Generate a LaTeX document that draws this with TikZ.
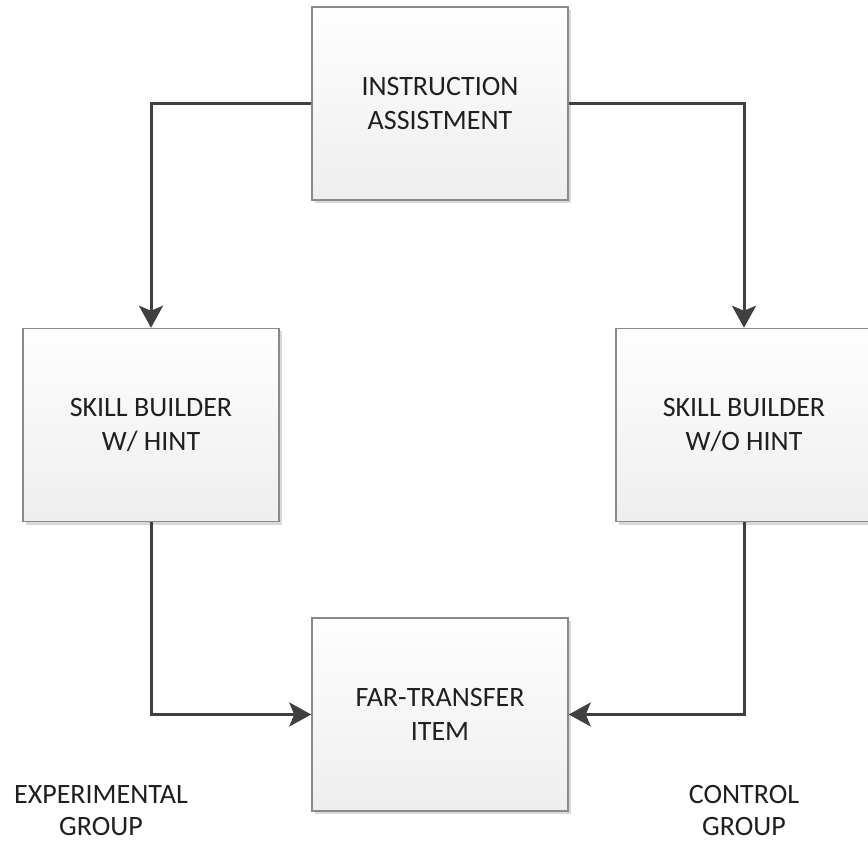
\documentclass[tikz,border=0pt]{standalone}
\usepackage{fontspec}
\setmainfont{Carlito}
\usetikzlibrary{arrows.meta,shadows}
\definecolor{linecol}{HTML}{404040}
\definecolor{textcol}{HTML}{1F1F1F}
\definecolor{boxborder}{HTML}{8A8A8A}
\definecolor{boxtop}{HTML}{FEFEFE}
\definecolor{boxbot}{HTML}{EEEEEE}
\tikzset{
  stepbox/.style={draw=boxborder, line width=1.5pt, top color=boxtop, bottom color=boxbot,
    minimum width=256pt, minimum height=193pt, inner sep=0pt, align=center,
    text=textcol, font=\fontsize{28}{34}\selectfont,
    drop shadow={shadow xshift=3pt, shadow yshift=-3pt, fill=black, opacity=0.15}},
  grouplabel/.style={align=center, text=textcol, font=\fontsize{28}{32}\selectfont},
  conn/.style={draw=linecol, line width=3pt, -{Stealth[length=22pt,width=24pt,inset=5pt]}}
}
\begin{document}
\begin{tikzpicture}[x=1pt,y=1pt]
\useasboundingbox (0,0) rectangle (868,-842);
\clip (0,0) rectangle (868,-842);
\fill[white] (0,0) rectangle (868,-842);
\node[stepbox] (ia) at (440,-103.5) {INSTRUCTION\\ASSISTMENT};
\node[stepbox] (sbw) at (151,-425) {SKILL BUILDER\\W/ HINT};
\node[stepbox] (sbo) at (744,-425) {SKILL BUILDER\\W/O HINT};
\node[stepbox] (ft) at (440,-714.5) {FAR-TRANSFER\\ITEM};
\node[grouplabel] (exp) at (101,-811) {EXPERIMENTAL\\GROUP};
\node[grouplabel] (ctl) at (744,-811) {CONTROL\\GROUP};
\draw[conn] (ia.west) -| (sbw.north);
\draw[conn] (ia.east) -| (sbo.north);
\draw[conn] (sbw.south) |- (ft.west);
\draw[conn] (sbo.south) |- (ft.east);
\end{tikzpicture}
\end{document}
